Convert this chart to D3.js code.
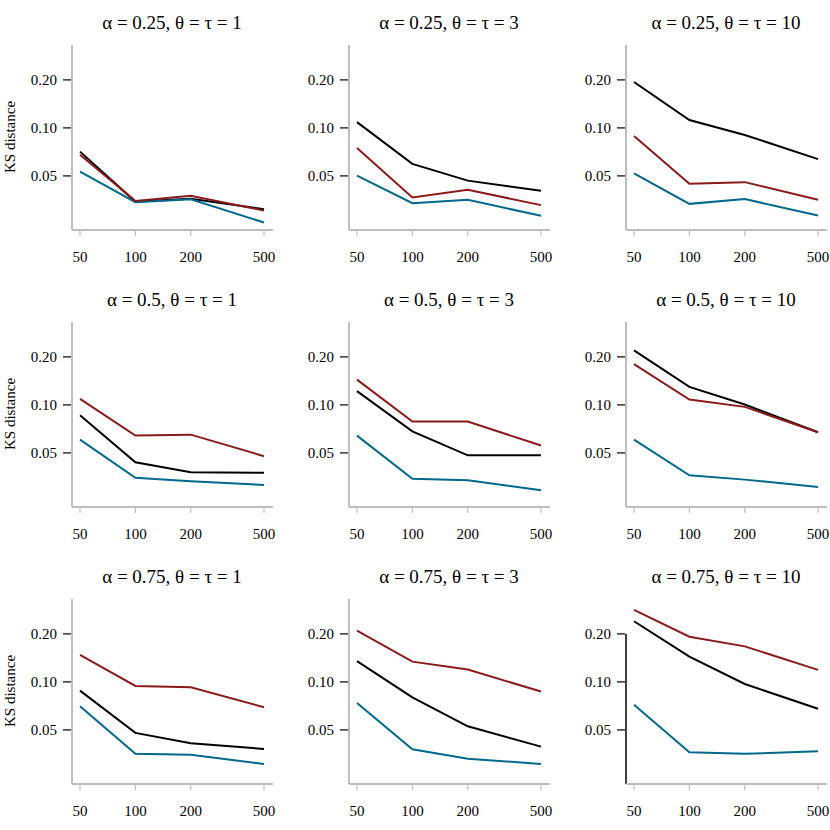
<!DOCTYPE html>
<html>
<head>
<meta charset="utf-8">
<script src="https://cdn.jsdelivr.net/npm/d3@7"></script>
<style>
  body { margin: 0; background: #fff; }
  text { font-family: "Liberation Serif", "DejaVu Serif", serif; fill: #000; }
</style>
</head>
<body>
<svg id="svgcanvas" width="830" height="830"></svg>
<script>
// sample sizes on the x axis
var sizes = [50, 100, 200, 500];
var alphas = ["0.25", "0.5", "0.75"];
var thetas = ["1", "3", "10"];
var yTicks = [0.05, 0.10, 0.20];

// KS distance per panel (row by row), one array per line
var ksBlack = [
  [0.071, 0.0345, 0.0359, 0.0309],
  [0.1087, 0.0595, 0.0467, 0.0404],
  [0.194, 0.112, 0.0903, 0.0637],
  [0.0862, 0.0437, 0.0378, 0.0375],
  [0.122, 0.0683, 0.0483, 0.0483],
  [0.22, 0.1297, 0.1005, 0.0674],
  [0.0882, 0.0479, 0.0412, 0.038],
  [0.135, 0.080, 0.0527, 0.0393],
  [0.24, 0.144, 0.097, 0.0678]
];
var ksRed = [
  [0.0679, 0.0348, 0.0376, 0.0303],
  [0.0747, 0.0366, 0.0409, 0.0328],
  [0.089, 0.0446, 0.0457, 0.0354],
  [0.109, 0.0642, 0.0651, 0.0477],
  [0.144, 0.0787, 0.0787, 0.0556],
  [0.18, 0.108, 0.0972, 0.0674],
  [0.1476, 0.0944, 0.0926, 0.0694],
  [0.21, 0.134, 0.1196, 0.087],
  [0.283, 0.192, 0.167, 0.119]
];
var ksBlue = [
  [0.0532, 0.0342, 0.0357, 0.0255],
  [0.0502, 0.0337, 0.0354, 0.0281],
  [0.0518, 0.0334, 0.0358, 0.0282],
  [0.0606, 0.0349, 0.0332, 0.0315],
  [0.0642, 0.0344, 0.0337, 0.0292],
  [0.0606, 0.0362, 0.034, 0.0306],
  [0.0704, 0.0354, 0.0349, 0.0306],
  [0.0738, 0.0378, 0.033, 0.0306],
  [0.072, 0.0362, 0.0354, 0.0367]
];

var cell = 277;
var axisGray = "#bebebe";

var x = d3.scaleLog().domain([50, 500]).range([80, 264]);
var y = d3.scaleLog().domain([0.0229, 0.331]).range([230, 45]);

var line = d3.line()
  .x(function(d, i) { return x(sizes[i]); })
  .y(function(d) { return y(d); });

var svg = d3.select("#svgcanvas");

for (var p = 0; p < 9; p++) {
  var row = Math.floor(p / 3), col = p % 3;
  var g = svg.append("g").attr("transform", "translate(" + (col * cell) + "," + (row * cell) + ")");

  g.append("text")
    .attr("x", 172).attr("y", 29)
    .attr("text-anchor", "middle")
    .style("font-size", "19px")
    .text("\u03b1 = " + alphas[row] + ", \u03b8 = \u03c4 = " + thetas[col]);

  if (col == 0) {
    g.append("text")
      .attr("transform", "translate(15,137) rotate(-90)")
      .attr("text-anchor", "middle")
      .style("font-size", "15px")
      .text("KS distance");
  }

  // y axis
  if (p == 8) {
    g.append("line").attr("x1", 72).attr("x2", 72)
      .attr("y1", y(0.2)).attr("y2", 230)
      .attr("stroke", "#000").attr("stroke-width", 1.5);
  } else {
    g.append("line").attr("x1", 72).attr("x2", 72)
      .attr("y1", 45).attr("y2", 230)
      .attr("stroke", axisGray).attr("stroke-width", 2);
  }
  g.selectAll("line.ytick").data(yTicks).enter().append("line")
    .attr("x1", 63).attr("x2", 71)
    .attr("y1", d => y(d)).attr("y2", d => y(d))
    .attr("stroke", "#000").attr("stroke-width", 1.2);
  g.selectAll("text.ylab").data(yTicks).enter().append("text")
    .attr("x", 57).attr("y", d => y(d) + 5)
    .attr("text-anchor", "end")
    .style("font-size", "15px")
    .text(d => d.toFixed(2));

  // x axis
  g.append("line").attr("x1", 72).attr("x2", 273)
    .attr("y1", 230).attr("y2", 230)
    .attr("stroke", axisGray).attr("stroke-width", 2);
  g.selectAll("line.xtick").data(sizes).enter().append("line")
    .attr("x1", d => x(d)).attr("x2", d => x(d))
    .attr("y1", 230).attr("y2", 236)
    .attr("stroke", axisGray).attr("stroke-width", 1.2);
  g.selectAll("text.xlab").data(sizes).enter().append("text")
    .attr("x", d => x(d)).attr("y", 262)
    .attr("text-anchor", "middle")
    .style("font-size", "15px")
    .text(d => d);

  [[ksBlack[p], "#000000"], [ksBlue[p], "#00688b"], [ksRed[p], "#8b1a1a"]].forEach(function(s) {
    g.append("path")
      .attr("d", line(s[0]))
      .attr("fill", "none")
      .attr("stroke", s[1])
      .attr("stroke-width", 2);
  });
}
</script>
</body>
</html>
